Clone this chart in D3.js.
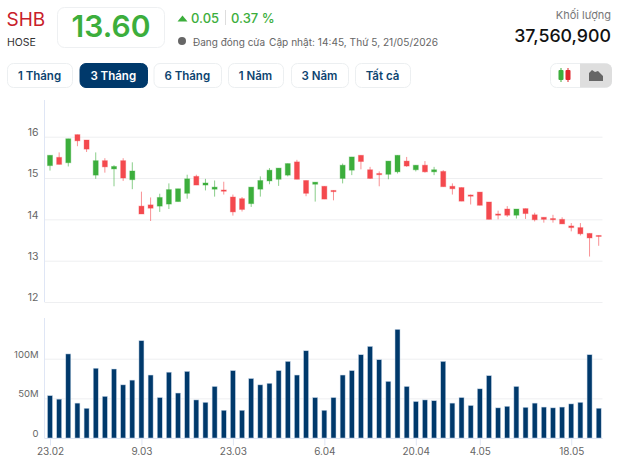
<!DOCTYPE html>
<html><head><meta charset="utf-8">
<script src="https://cdn.jsdelivr.net/npm/d3@7/dist/d3.min.js"></script>
<style>
html,body{margin:0;padding:0;background:#fff;width:624px;height:457px;overflow:hidden}
svg{display:block}
text{font-family:Inter,Roboto,sans-serif}
</style></head><body>
<svg id="c" width="624" height="457"></svg>
<script>
const dates=["23.02","24.02","25.02","26.02","27.02","2.03","3.03","4.03","5.03","6.03","9.03","10.03","11.03","12.03","13.03","16.03","17.03","18.03","19.03","20.03","23.03","24.03","25.03","26.03","27.03","30.03","31.03","1.04","2.04","3.04","6.04","7.04","8.04","9.04","10.04","13.04","14.04","15.04","16.04","17.04","20.04","21.04","22.04","23.04","24.04","27.04","28.04","29.04","30.04","1.05","4.05","5.05","6.05","7.05","8.05","11.05","12.05","13.05","18.05","19.05","20.05"];
const tickLabels=["23.02","9.03","23.03","6.04","20.04","4.05","18.05"];
const tickIndex=[0,10,20,30,40,47,57];
const open =[15.30,15.50,15.37,16.05,15.92,15.07,15.42,15.22,15.42,14.96,14.32,14.35,14.32,14.37,14.43,14.63,15.04,14.83,14.73,14.71,14.54,14.50,14.38,14.73,14.93,14.97,15.07,15.39,14.94,14.85,14.80,14.70,14.99,15.19,15.55,15.20,15.11,15.09,15.15,15.41,15.20,15.31,15.15,15.16,14.80,14.77,14.59,14.66,14.42,14.13,14.25,14.10,14.26,14.11,14.05,14.02,14.00,13.84,13.80,13.66,13.61];
const close=[15.55,15.33,15.95,15.90,15.70,15.42,15.27,15.28,15.00,15.17,14.13,14.27,14.53,14.72,14.74,14.98,14.83,14.88,14.78,14.68,14.18,14.24,14.78,14.94,15.19,15.24,15.35,14.97,14.63,14.90,14.49,14.67,15.31,15.51,15.40,14.99,15.08,15.41,15.55,15.29,15.31,15.15,15.20,14.79,14.74,14.44,14.56,14.34,14.00,14.10,14.10,14.25,14.14,13.99,14.00,13.99,13.89,13.80,13.65,13.55,13.60];
const high =[15.55,15.62,15.95,16.05,15.92,15.62,15.48,15.31,15.48,15.38,14.67,14.53,14.62,14.87,14.74,15.08,15.08,14.98,14.94,14.91,14.60,14.54,14.78,15.04,15.24,15.24,15.35,15.44,14.94,14.90,14.80,14.70,15.35,15.51,15.55,15.27,15.16,15.41,15.55,15.51,15.31,15.41,15.27,15.19,14.87,14.77,14.60,14.66,14.42,14.21,14.32,14.25,14.26,14.16,14.05,14.11,14.05,13.91,13.91,13.66,13.61];
const low  =[15.18,15.33,15.28,15.77,15.63,14.98,15.13,14.80,14.93,14.73,14.13,13.96,14.18,14.25,14.43,14.50,14.83,14.70,14.55,14.60,14.09,14.19,14.30,14.55,14.85,14.81,15.04,14.97,14.56,14.43,14.49,14.46,14.87,15.07,15.21,14.98,14.80,14.97,15.11,15.27,15.16,15.13,15.07,14.79,14.60,14.44,14.36,14.34,14.00,14.00,14.06,14.02,14.01,13.95,13.92,13.92,13.89,13.71,13.61,13.10,13.36];
const volume=[53.4,49,106,44,37.5,88,52.5,87,67,73,122.7,79.4,51,83,56.7,84,48,45,65,35,85,35,75,67,69,85,96.6,79.4,110,51,35,51,79.4,85,105,115.5,98.7,71.4,137,65,46,48,47,96.6,44,51,41,62,78.6,38,40,65,38.7,44,39,38,39,43,45,105,37.56];
const priceTicks=[12,13,14,15,16];
const volumeTicks=[0,50,100];
const rangeLabels=["1 Tháng","3 Tháng","6 Tháng","1 Năm","3 Năm","Tất cả"];
const up="#3cae3c",down="#f4494e",navy="#00396b";

const svg=d3.select("#c");
const x=d3.scalePoint().domain(d3.range(dates.length)).range([50,598.7]);
const yP=d3.scaleLinear().domain([12,16]).range([302,136.7]);
const yV=d3.scaleLinear().domain([0,100]).range([438,358.7]);

// header
const T=(s,px,py,size,fill,w,anchor)=>svg.append("text").attr("x",px).attr("y",py).attr("font-size",size).attr("fill",fill).attr("font-weight",w||400).attr("text-anchor",anchor||"start").text(s);
T("SHB",6.5,26,19,"#c8202a",400);
T("HOSE",7,46,10.5,"#333",400);
svg.append("rect").attr("x",57.5).attr("y",7.5).attr("width",107).attr("height",40).attr("rx",7).attr("fill","#fff").attr("stroke","#eef0f2");
T("13.60",111,36.5,30,"#3cae3c",600,"middle");
svg.append("path").attr("d","M177.5 21.5 L182.5 15.5 L187.5 21.5 Z").attr("fill","#3cae3c");
T("0.05",191,22.5,13,"#3cae3c",500);
svg.append("rect").attr("x",225).attr("y",10).attr("width",1).attr("height",15).attr("fill","#ddd");
T("0.37 %",231,22.5,13,"#3cae3c",500);
svg.append("circle").attr("cx",182).attr("cy",41).attr("r",4).attr("fill","#666");
T("Đang đóng cửa",193,45.5,10,"#666");
T("Cập nhật: 14:45, Thứ 5, 21/05/2026",269,45.5,10.15,"#666");
T("Khối lượng",611,18.5,11,"#777",400,"end");
T("37,560,900",611,42,17.8,"#111",500,"end");

// range buttons
const bx=[7,79.5,153.5,228,291,355],bw=[65,67.5,67.5,55,57,55];
rangeLabels.forEach((s,i)=>{
  const a=i===1;
  svg.append("rect").attr("x",bx[i]+.5).attr("y",63.5).attr("width",bw[i]).attr("height",24).attr("rx",6).attr("fill",a?navy:"#fff").attr("stroke",a?navy:"#eceff1");
  T(s,bx[i]+bw[i]/2,79.5,11.5,a?"#fff":"#0d4470",600,"middle");
});
// chart type toggle
svg.append("rect").attr("x",550.5).attr("y",63.5).attr("width",61).attr("height",24).attr("rx",6).attr("fill","#fff").attr("stroke","#eceff1");
svg.append("path").attr("d","M580 63.5H606a6 6 0 0 1 6 6V81.5a6 6 0 0 1 -6 6H580Z").attr("fill","#dedede");
[[561,up],[568,"#e0272d"]].forEach(([cx,c])=>{
  svg.append("rect").attr("x",cx-.5).attr("y",68).attr("width",1).attr("height",14).attr("fill",c);
  svg.append("rect").attr("x",cx-2.5).attr("y",70).attr("width",5).attr("height",10).attr("rx",1).attr("fill",c);
});
svg.append("path").attr("d","M589 81V73L592 70L595 72L598 71L603 76V81Z").attr("fill","#666");

// price axis and grid
const gridP=svg.append("g").attr("transform","translate(44.5,0)").call(d3.axisLeft(yP).tickValues(priceTicks).tickSize(-558).tickFormat(d3.format("d")));
const gridV=svg.append("g").attr("transform","translate(44.5,0)").call(d3.axisLeft(yV).tickValues(volumeTicks).tickSize(-558).tickFormat(d=>d===0?"0":d+"M"));
[gridP,gridV].forEach(g=>{
  g.select(".domain").remove();
  g.selectAll(".tick line").attr("stroke","#eeeff1").attr("stroke-width",1);
  g.selectAll(".tick text").attr("x",-6).attr("dy","-0.15em").attr("fill","#666").attr("font-size",9.5).style("font-family","Inter,Roboto,sans-serif");
});
gridP.selectAll(".tick text").attr("font-size",10.5).attr("dy","-0.12em");
svg.append("line").attr("x1",44.5).attr("x2",44.5).attr("y1",100).attr("y2",302).attr("stroke","#dfe6f5");
svg.append("line").attr("x1",44.5).attr("x2",44.5).attr("y1",318).attr("y2",438).attr("stroke","#dfe6f5");
svg.append("line").attr("x1",44.5).attr("x2",602.5).attr("y1",438.5).attr("y2",438.5).attr("stroke","#dfe6f5");

// volume
svg.append("g").selectAll("rect").data(volume).join("rect")
  .attr("x",(d,i)=>x(i)-2.5).attr("width",5)
  .attr("y",d=>yV(d)).attr("height",d=>yV(0)-yV(d))
  .attr("fill",navy).attr("stroke","#c5d6e8").attr("stroke-width",.5);

// candles
const candles=svg.append("g").selectAll("g").data(dates).join("g");
const col=i=>close[i]>=open[i]?up:down;
candles.append("line").attr("x1",(d,i)=>x(i)).attr("x2",(d,i)=>x(i))
  .attr("y1",(d,i)=>yP(high[i])).attr("y2",(d,i)=>yP(low[i]))
  .attr("stroke",(d,i)=>col(i)).attr("stroke-width",1).attr("stroke-opacity",.6);
candles.append("rect").attr("x",(d,i)=>x(i)-2.5).attr("width",5)
  .attr("y",(d,i)=>yP(Math.max(open[i],close[i])))
  .attr("height",(d,i)=>Math.max(1,Math.abs(yP(open[i])-yP(close[i]))))
  .attr("fill",(d,i)=>col(i)).attr("stroke",(d,i)=>col(i)).attr("stroke-opacity",.35).attr("stroke-width",1);

// date axis
const ax=svg.append("g").attr("transform","translate(0,438.5)").call(d3.axisBottom(x).tickValues(tickIndex).tickSize(7).tickFormat(i=>tickLabels[tickIndex.indexOf(i)]));
ax.select(".domain").remove();
ax.selectAll(".tick line").attr("stroke","#dfe6f5");
ax.selectAll(".tick text").attr("y",9).attr("fill","#666").attr("font-size",10).style("font-family","Inter,Roboto,sans-serif");
</script></body></html>
